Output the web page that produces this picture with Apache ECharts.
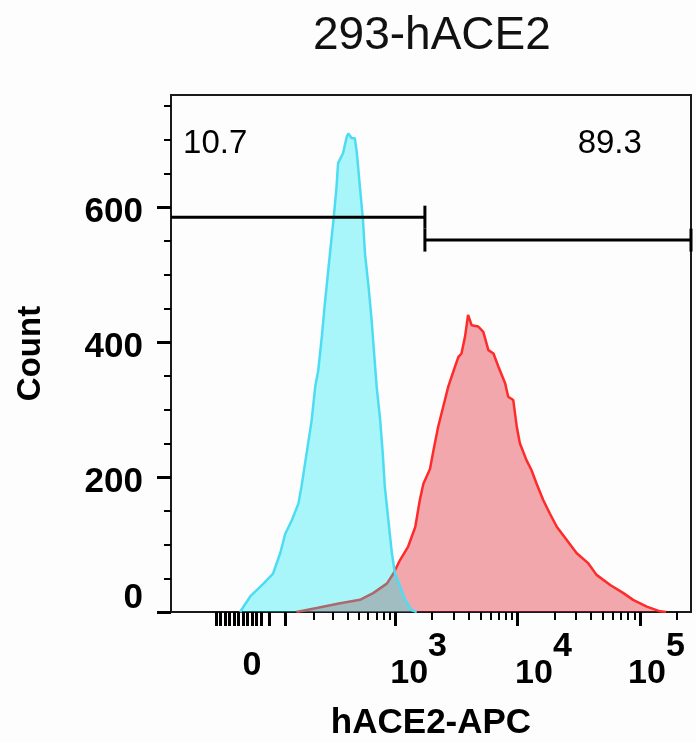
<!DOCTYPE html>
<html>
<head>
<meta charset="utf-8">
<script src="https://cdn.jsdelivr.net/npm/echarts@6/dist/echarts.min.js"></script>
<style>
  html, body { margin: 0; padding: 0; background: #fdfdfe; }
  #chart { width: 696px; height: 742px; }
</style>
</head>
<body>
<div id="chart"></div>
<script>
// Histogram outlines: x in display channels (0-1024, arcsinh-scaled), y in event counts
const controlChannel = [136, 156, 182, 201, 215, 225, 238, 251, 257, 267, 277, 284, 290, 297, 303, 313, 320, 326, 329, 339, 346, 349, 356, 362, 366, 372, 378, 382, 389, 395, 400, 405, 412, 417, 421, 428, 435, 441, 451, 461, 474, 484];
const controlCount   = [0, 23, 42, 57, 87, 116, 136, 161, 186, 235, 284, 334, 358, 408, 457, 531, 581, 630, 665, 680, 704, 709, 702, 702, 680, 630, 581, 531, 482, 433, 383, 334, 284, 235, 186, 136, 87, 57, 38, 18, 3, 0];

const stainedChannel = [247, 287, 333, 372, 398, 425, 438, 451, 467, 481, 490, 497, 510, 517, 526, 536, 546, 559, 566, 572, 579, 585, 592, 605, 615, 625, 635, 645, 658, 664, 674, 681, 687, 700, 710, 720, 733, 746, 760, 779, 799, 822, 838, 865, 891, 910, 937, 963, 975];
const stainedCount   = [0, 6, 13, 18, 28, 42, 57, 77, 97, 126, 166, 190, 212, 240, 274, 304, 334, 363, 378, 383, 408, 440, 425, 423, 415, 388, 383, 363, 339, 319, 314, 274, 250, 225, 210, 190, 166, 146, 126, 107, 87, 72, 55, 40, 28, 18, 8, 1, 0];

// Gates (channel bounds and drawing height in counts) and their percentages
const gateBounds   = [[0, 500], [500, 1024]];
const gateLevel    = [585, 551];
const gateCapHalf  = 17;
const gateLabels   = ['10.7', '89.3'];
const gateLabelAt  = [[87, 693], [864, 693]];

// Axis ticks (raw fluorescence values / counts)
const xMajorTicks = [-60, -50, -40, -30, -20, -10, 0, 10, 20, 30, 40, 60, 100, 1e3, 1e4, 1e5];
const xMinorTicks = [200, 300, 400, 500, 600, 700, 800, 900,
                     2e3, 3e3, 4e3, 5e3, 6e3, 7e3, 8e3, 9e3,
                     2e4, 3e4, 4e4, 5e4, 6e4, 7e4, 8e4, 9e4, 2e5];
const xLabelValues = [0, 1e3, 1e4, 1e5];
const xLabelExp    = [null, 3, 4, 5];
const yLabelValues = [0, 200, 400, 600];

// Biexponential-like display transform: raw value -> channel
const toChannel = v => 141.8 + 104.76 * Math.asinh(v / 115);

const FONT = 'Liberation Sans, Arial, Helvetica, sans-serif';
const pairs = (xs, ys) => xs.map((x, i) => [x, ys[i]]);

const gateSeries = [];
gateBounds.forEach((b, i) => {
  const y = gateLevel[i];
  const seg = [[[b[0], y], [b[1], y]]];
  // end caps
  if (b[0] > 0) seg.push([[b[0], y - gateCapHalf], [b[0], y + gateCapHalf]]);
  seg.push([[b[1], y - gateCapHalf], [b[1], y + gateCapHalf]]);
  seg.forEach(d => gateSeries.push({
    type: 'line', data: d, symbol: 'none', silent: true, z: 5,
    lineStyle: { color: '#000', width: 3 }, clip: false
  }));
});

const chart = echarts.init(document.getElementById('chart'), null, { renderer: 'canvas' });
chart.setOption({
  animation: false,
  backgroundColor: '#fdfdfe',
  textStyle: { fontFamily: FONT, color: '#000' },
  title: {
    text: '293-hACE2', left: 313, top: 13, padding: 0,
    textStyle: { fontFamily: FONT, fontSize: 46, fontWeight: 'normal', color: '#111' }
  },
  grid: {
    left: 171, right: 5, top: 95, bottom: 130,
    show: true, borderColor: '#1a1a1a', borderWidth: 2,
    outerBoundsMode: 'none'
  },
  xAxis: [
    {
      type: 'value', position: 'bottom', min: 0, max: 1024,
      name: 'hACE2-APC', nameLocation: 'middle', nameGap: 111, nameMoveOverlap: false,
      nameTextStyle: { fontFamily: FONT, fontSize: 35, fontWeight: 'bold', color: '#000', verticalAlign: 'middle' },
      axisLine: { onZero: false, lineStyle: { color: '#1a1a1a', width: 2 } },
      splitLine: { show: false },
      axisTick: { customValues: xMajorTicks.map(toChannel), length: 14, lineStyle: { color: '#000', width: 3 } },
      axisLabel: {
        customValues: xLabelValues.map(toChannel),
        margin: 45, color: '#000',
        formatter: val => {
          const i = xLabelValues.findIndex(v => Math.abs(toChannel(v) - val) < 0.01);
          if (i < 0) return '';
          const e = xLabelExp[i];
          return e === null ? '{z|0}' : '{n' + e + '|10}{s|' + e + '}';
        },
        rich: {
          z:  { fontFamily: FONT, fontSize: 34, fontWeight: 'bold', lineHeight: 34, padding: [19, 0, 35, 18] },
          n3: { fontFamily: FONT, fontSize: 34, fontWeight: 'bold', lineHeight: 34, padding: [0, 0, 0, 47] },
          n4: { fontFamily: FONT, fontSize: 34, fontWeight: 'bold', lineHeight: 34, padding: [0, 0, 0, 52] },
          n5: { fontFamily: FONT, fontSize: 34, fontWeight: 'bold', lineHeight: 34, padding: [0, 0, 0, 33] },
          s:  { fontFamily: FONT, fontSize: 34, fontWeight: 'bold', lineHeight: 34, padding: [0, 0, 54, 0] }
        }
      }
    },
    {
      type: 'value', position: 'bottom', min: 0, max: 1024,
      axisLine: { show: false, onZero: false },
      splitLine: { show: false },
      axisTick: { customValues: xMinorTicks.map(toChannel), length: 8, lineStyle: { color: '#000', width: 2 } },
      axisLabel: { show: false }
    }
  ],
  yAxis: {
    type: 'value', min: 0, max: 766, interval: 200,
    name: 'Count', nameLocation: 'middle', nameGap: 140, nameRotate: 90, nameMoveOverlap: false,
    nameTextStyle: { fontFamily: FONT, fontSize: 33, fontWeight: 'bold', color: '#000', verticalAlign: 'middle' },
    axisLine: { show: true, lineStyle: { color: '#1a1a1a', width: 2 } },
    splitLine: { show: false },
    axisTick: { customValues: yLabelValues, length: 14, lineStyle: { color: '#000', width: 3 } },
    minorTick: { show: true, splitNumber: 4, length: 7, lineStyle: { color: '#000', width: 2 } },
    axisLabel: {
      customValues: yLabelValues, margin: 28, color: '#000',
      formatter: v => v === 0 ? '{z|0}' : '{n|' + v + '}',
      rich: {
        n: { fontFamily: FONT, fontSize: 35, fontWeight: 'bold', padding: [10, 0, 0, 0] },
        z: { fontFamily: FONT, fontSize: 35, fontWeight: 'bold', padding: [0, 0, 28, 0] }
      }
    }
  },
  series: [
    {
      name: 'hACE2', type: 'line', data: pairs(stainedChannel, stainedCount),
      symbol: 'none', z: 2,
      lineStyle: { color: '#ff2a2a', width: 2.5 },
      areaStyle: { color: 'rgba(220,20,30,0.37)', opacity: 1 }
    },
    {
      name: 'control', type: 'line', data: pairs(controlChannel, controlCount),
      symbol: 'none', z: 3,
      lineStyle: { color: '#4ddcf2', width: 2.5 },
      areaStyle: { color: 'rgba(0,234,243,0.33)', opacity: 1 }
    },
    ...gateSeries,
    {
      type: 'scatter', symbolSize: 0, silent: true, z: 6,
      itemStyle: { opacity: 1 },
      data: gateLabelAt.map((p, i) => ({ value: p, name: gateLabels[i] })),
      label: {
        show: true, position: 'inside', formatter: p => p.name,
        fontFamily: FONT, fontSize: 33, fontWeight: 'normal', color: '#000'
      }
    }
  ]
});
</script>
</body>
</html>
